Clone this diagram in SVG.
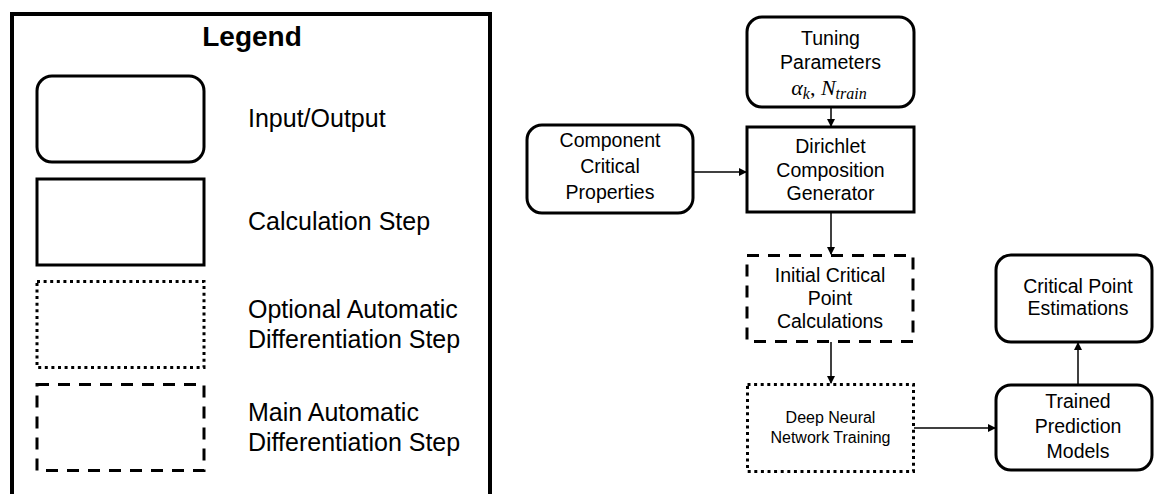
<svg xmlns="http://www.w3.org/2000/svg" width="1154" height="494" viewBox="0 0 1154 494">
<style>
text{font-family:"Liberation Sans",Arial,sans-serif;fill:#000}
.lg{font-size:25px}
.nd{font-size:19.5px;text-anchor:middle}
.sm{font-size:16px;text-anchor:middle}
.io{fill:#fff;stroke:#000;stroke-width:3}
.calc{fill:#fff;stroke:#000;stroke-width:3}
.dot{fill:#fff;stroke:#000;stroke-width:3;stroke-dasharray:3 3.6}
.dash{fill:#fff;stroke:#000;stroke-width:3;stroke-dasharray:12 9}
.con{stroke:#000;stroke-width:1.5;fill:none;marker-end:url(#ah)}
.math{font-family:"Liberation Serif","Times New Roman",serif;font-style:italic}
</style>
<defs>
<marker id="ah" markerWidth="8" markerHeight="8" refX="7" refY="4" orient="auto" markerUnits="userSpaceOnUse">
<path d="M0,0 L8,4 L0,8 Z" fill="#000"/>
</marker>
</defs>
<rect width="1154" height="494" fill="#fff"/>
<g id="legend">
<rect x="12" y="14" width="478" height="500" fill="none" stroke="#000" stroke-width="4"/>
<text x="252" y="46" font-size="28" font-weight="bold" text-anchor="middle">Legend</text>
<rect class="io" x="37" y="76" width="167" height="86" rx="15"/>
<text class="lg" x="248" y="127">Input/Output</text>
<rect class="calc" x="37" y="179" width="167" height="86"/>
<text class="lg" x="248" y="230">Calculation Step</text>
<rect class="dot" x="37" y="281.5" width="167" height="86"/>
<text class="lg" x="248" y="318">Optional Automatic</text>
<text class="lg" x="248" y="348">Differentiation Step</text>
<rect class="dash" x="37" y="384.5" width="167" height="86"/>
<text class="lg" x="248" y="421">Main Automatic</text>
<text class="lg" x="248" y="451">Differentiation Step</text>
</g>
<g id="connectors">
<line class="con" x1="831" y1="107" x2="831" y2="126"/>
<line class="con" x1="693" y1="172" x2="746" y2="172"/>
<line class="con" x1="831" y1="212" x2="831" y2="254"/>
<line class="con" x1="831" y1="342" x2="831" y2="383"/>
<line class="con" x1="914" y1="428" x2="995" y2="428"/>
<line class="con" x1="1078" y1="385" x2="1078" y2="343"/>
</g>
<g id="tuning">
<rect class="io" x="747" y="17" width="167" height="90" rx="15"/>
<text class="nd" x="830.5" y="45">Tuning</text>
<text class="nd" x="830.5" y="69">Parameters</text>
<text x="829" y="95" text-anchor="middle" class="math" font-size="22">α<tspan font-size="16" dy="4">k</tspan><tspan dy="-4" font-style="normal">, </tspan>N<tspan font-size="16" dy="4">train</tspan></text>
</g>
<g id="component">
<rect class="io" x="527" y="125" width="166" height="88" rx="15"/>
<text class="nd" x="610" y="147">Component</text>
<text class="nd" x="610" y="173">Critical</text>
<text class="nd" x="610" y="199">Properties</text>
</g>
<g id="dirichlet">
<rect class="calc" x="747" y="127" width="167" height="85"/>
<text class="nd" x="830.5" y="153">Dirichlet</text>
<text class="nd" x="830.5" y="177">Composition</text>
<text class="nd" x="830.5" y="200">Generator</text>
</g>
<g id="initial">
<rect class="dash" x="747" y="255.5" width="166" height="86"/>
<text class="nd" x="830" y="282">Initial Critical</text>
<text class="nd" x="830" y="305">Point</text>
<text class="nd" x="830" y="328">Calculations</text>
</g>
<g id="dnn">
<rect class="dot" x="747.5" y="384.5" width="166" height="87"/>
<text class="sm" x="830.5" y="423">Deep Neural</text>
<text class="sm" x="830.5" y="443">Network Training</text>
</g>
<g id="estimations">
<rect class="io" x="996" y="255" width="156" height="87" rx="15"/>
<text class="nd" x="1078" y="293">Critical Point</text>
<text class="nd" x="1078" y="315">Estimations</text>
</g>
<g id="trained">
<rect class="io" x="996" y="385" width="156" height="85" rx="15"/>
<text class="nd" x="1078" y="408">Trained</text>
<text class="nd" x="1078" y="433">Prediction</text>
<text class="nd" x="1078" y="458">Models</text>
</g>
</svg>
